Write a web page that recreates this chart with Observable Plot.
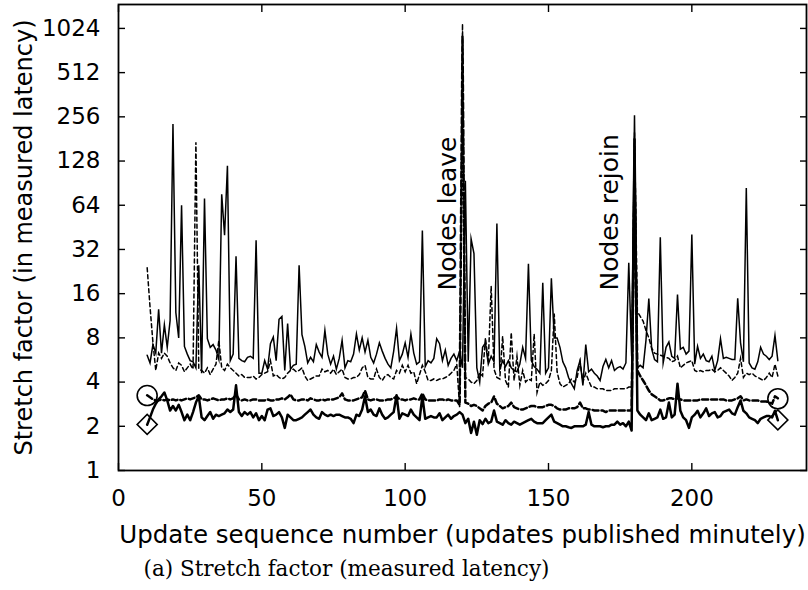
<!DOCTYPE html>
<html>
<head>
<meta charset="utf-8">
<script src="https://cdn.jsdelivr.net/npm/d3@7"></script>
<script src="https://cdn.jsdelivr.net/npm/@observablehq/plot@0.6"></script>
<style>
  html, body { margin: 0; padding: 0; background: #fff; }
  #chart { width: 808px; height: 590px; }
</style>
</head>
<body>
<div id="chart"></div>
<script>
// Update sequence numbers: first published update and the values that follow it (one per minute)
const firstSeq = 10;

// Thin solid line
const thinSolid = [
  6.1, 5.4, 7.2, 6.3, 12.5, 6.3, 9.8, 6.9, 10.5, 229,
  11.9, 8.0, 64, 7.0, 6.2, 5.6, 5.5, 5.0, 25, 4.6,
  71, 7.9, 6.9, 7.2, 6.6, 5.7, 76, 40, 119, 5.6,
  6.2, 28.8, 5.8, 5.6, 5.5, 5.9, 6.0, 5.8, 37, 4.6,
  4.6, 5.6, 4.9, 7.3, 8.1, 5.6, 10.7, 11.2, 4.8, 10.0,
  4.9, 5.2, 5.3, 25, 8.4, 7.0, 5.4, 5.9, 5.5, 7.2,
  6.4, 5.9, 9.0, 6.2, 5.3, 6.0, 4.9, 5.8, 7.7, 5.0,
  5.6, 5.5, 6.2, 8.5, 6.6, 8.0, 6.4, 7.7, 5.9, 5.4,
  6.2, 7.4, 6.5, 5.8, 5.3, 5.0, 6.5, 9.3, 5.6, 6.2,
  7.4, 5.9, 8.5, 6.3, 5.3, 5.5, 43, 5.1, 5.6, 5.4,
  5.8, 7.9, 7.3, 5.6, 6.6, 5.2, 5.8, 6.2, 5.6, 6.5,
  5.0, 94, 5.5, 37.8, 30, 5.0, 4.0, 6.9, 7.4, 5.3,
  6.0, 5.5, 48, 4.9, 5.6, 5.1, 5.6, 5.0, 4.8, 4.7,
  5.3, 6.9, 5.8, 25.6, 5.6, 5.1, 4.9, 4.6, 19, 4.6,
  5.0, 20.4, 8.0, 8.0, 6.9, 5.5, 5.0, 4.3, 3.9, 3.6,
  4.8, 5.6, 3.8, 7.2, 4.7, 4.9, 4.6, 4.4, 4.1, 5.1,
  5.7, 5.0, 5.6, 4.8, 5.0, 5.1, 4.9, 5.4, 26, 6.0,
  262, 5.0, 5.2, 5.0, 7.7, 14.8, 6.7, 5.7, 5.5, 38.8,
  5.4, 6.9, 7.5, 6.0, 5.8, 15.8, 6.7, 6.9, 6.2, 6.5,
  40.5, 5.3, 7.0, 5.8, 6.2, 5.6, 5.5, 6.0, 4.8, 5.6,
  7.9, 5.8, 5.9, 5.8, 5.7, 5.7, 14.9, 7.4, 5.5, 84,
  5.4, 5.0, 4.9, 5.5, 6.9, 6.2, 6.0, 5.7, 6.0, 8.3, 5.6
];

// Thin dashed line
const thinDashed = [
  24, 13, 7.5, 4.8, 6.3, 5.8, 6.3, 6.0, 5.4, 5.0,
  4.8, 5.4, 5.2, 4.7, 5.0, 5.3, 4.9, 172, 4.9, 4.8,
  4.6, 5.0, 4.5, 4.9, 5.3, 7.7, 5.0, 4.8, 5.3, 5.0,
  4.8, 4.6, 4.4, 4.5, 4.3, 4.3, 4.3, 4.4, 4.2, 4.3,
  4.5, 4.6, 4.7, 5.6, 4.4, 4.5, 4.3, 4.2, 4.3, 4.6,
  4.8, 4.9, 4.7, 4.8, 5.0, 4.4, 4.1, 4.2, 4.3, 4.4,
  4.4, 4.9, 4.7, 4.8, 4.6, 4.9, 4.5, 4.7, 4.9, 4.3,
  4.2, 4.2, 4.3, 4.3, 4.5, 5.0, 5.2, 4.3, 4.2, 4.2,
  4.9, 4.3, 4.1, 4.4, 4.5, 4.3, 4.2, 4.8, 4.6, 5.2,
  4.7, 5.2, 4.6, 4.7, 3.9, 4.5, 5.2, 4.7, 4.1, 4.1,
  4.2, 4.1, 4.2, 4.2, 4.3, 4.4, 4.6, 4.8, 5.3, 2.7,
  1100, 4.3, 4.2, 4.0, 3.9, 4.1, 4.6, 4.4, 8.0, 5.5,
  18, 4.9, 4.3, 4.2, 8.2, 4.1, 3.7, 8.7, 4.1, 6.0,
  3.8, 4.8, 4.0, 4.2, 4.1, 8.5, 3.4, 4.0, 3.8, 3.9,
  4.1, 4.8, 11.7, 4.7, 3.9, 3.7, 3.8, 3.9, 4.2, 4.0,
  4.3, 5.5, 4.0, 4.6, 4.1, 3.7, 3.7, 3.6, 3.6, 3.6,
  3.5, 3.5, 3.5, 3.6, 3.6, 3.6, 3.6, 3.6, 3.7, 3.7,
  200, 12.1, 11.2, 10.4, 9.0, 8.0, 6.8, 6.3, 6.2, 6.1,
  6.0, 5.9, 5.8, 5.5, 5.6, 6.0, 5.0, 5.2, 5.4, 5.5,
  5.6, 4.8, 4.7, 4.8, 4.7, 4.8, 4.8, 4.9, 4.7, 4.8,
  5.0, 4.8, 4.6, 4.4, 4.1, 4.3, 4.6, 5.8, 4.3, 4.6,
  4.5, 4.6, 4.4, 4.3, 4.2, 4.1, 4.3, 4.6, 4.3, 5.3, 4.4
];

// Thick dashed line (circle marker)
const thickDashed = [
  3.25, 3.15, 3.05, 3.0, 3.0, 3.05, 3.0, 3.05, 3.0, 3.05,
  3.0, 3.05, 3.0, 3.05, 3.1, 3.05, 3.1, 3.15, 3.25, 3.05,
  3.05, 3.0, 3.05, 3.1, 3.05, 3.0, 3.05, 3.05, 3.1, 3.05,
  3.1, 3.3, 3.05, 3.0, 3.05, 3.0, 3.0, 3.05, 3.05, 3.0,
  3.0, 3.0, 3.05, 3.0, 3.0, 3.05, 3.05, 3.1, 3.05, 3.15,
  3.3, 3.05, 3.0, 3.0, 3.05, 3.05, 3.0, 3.1, 3.05, 3.0,
  3.0, 3.05, 3.0, 3.05, 3.05, 3.05, 3.1, 3.15, 3.35, 3.05,
  3.0, 3.0, 3.0, 3.05, 3.1, 3.15, 3.5, 3.05, 3.0, 3.05,
  3.05, 3.0, 3.0, 3.0, 3.05, 3.05, 3.1, 3.2, 3.05, 3.05,
  3.0, 3.05, 3.05, 3.1, 3.05, 3.05, 3.35, 3.05, 3.0, 3.0,
  3.0, 3.0, 3.05, 3.05, 3.0, 3.05, 3.0, 3.0, 3.0, 2.8,
  900, 2.9, 2.85, 2.75, 2.8, 2.75, 2.65, 2.56, 2.75, 2.85,
  2.9, 3.2, 2.85, 2.75, 2.65, 2.7, 2.75, 2.9, 2.7, 2.65,
  2.6, 2.6, 2.65, 2.7, 2.75, 2.75, 2.7, 2.7, 2.7, 2.75,
  2.8, 2.8, 2.75, 2.65, 2.6, 2.6, 2.6, 2.65, 2.65, 2.65,
  2.7, 2.9, 2.65, 2.65, 2.6, 2.6, 2.56, 2.56, 2.56, 2.56,
  2.5, 2.56, 2.56, 2.56, 2.56, 2.56, 2.56, 2.56, 2.56, 2.56,
  100, 4.8, 4.4, 4.1, 3.8, 3.5, 3.3, 3.2, 3.1, 3.0,
  3.0, 3.05, 3.1, 3.1, 3.05, 3.1, 3.05, 3.0, 3.0, 3.0,
  3.0, 3.0, 3.0, 3.05, 3.05, 3.05, 3.05, 3.05, 3.05, 3.05,
  3.05, 3.05, 3.0, 3.0, 3.0, 3.05, 3.1, 3.2, 3.0, 3.05,
  3.0, 3.0, 3.0, 3.0, 2.95, 2.95, 2.95, 2.9, 2.85, 3.2, 3.1
];

// Thick solid line (diamond marker)
const thickSolid = [
  2.05, 2.3, 2.6, 2.85, 3.05, 3.2, 3.4, 3.0, 2.56, 2.75,
  2.56, 2.8, 2.5, 2.2, 2.4, 2.2, 2.5, 2.9, 3.2, 2.3,
  2.2, 2.35, 2.5, 2.25, 2.4, 2.35, 2.4, 2.45, 2.6, 2.5,
  2.6, 3.8, 2.5, 2.35, 2.5, 2.4, 2.5, 2.3, 2.45, 2.2,
  2.35, 2.2, 2.6, 2.65, 2.35, 2.4, 2.5, 2.3, 1.95, 2.4,
  2.3, 2.2, 2.2, 2.25, 2.3, 2.4, 2.5, 2.6, 2.4, 2.3,
  2.25, 2.5, 2.4, 2.35, 2.4, 2.35, 2.4, 2.4, 2.35, 2.3,
  2.3, 2.25, 2.1, 2.4, 2.35, 2.6, 3.2, 2.5, 2.6, 2.4,
  2.35, 2.65, 2.4, 2.25, 2.3, 2.4, 2.5, 3.25, 2.25, 2.45,
  2.4, 2.35, 2.6, 2.4, 2.3, 2.2, 3.2, 2.25, 2.3, 2.35,
  2.3, 2.3, 2.45, 2.2, 2.3, 2.4, 2.25, 2.35, 2.4, 2.5,
  2.4, 2.1, 2.25, 1.8, 2.15, 1.75, 2.2, 2.07, 2.25, 2.1,
  2.15, 2.56, 2.15, 2.1, 2.05, 2.2, 2.1, 2.05, 2.15, 2.1,
  2.05, 2.1, 2.15, 2.2, 2.25, 2.15, 2.1, 2.1, 2.1, 2.2,
  2.3, 2.4, 2.15, 2.1, 2.05, 2.0, 2.0, 1.97, 1.95, 2.0,
  2.0, 2.0, 2.0, 2.05, 2.5, 2.05, 2.0, 2.0, 2.0, 1.97,
  2.0, 2.0, 2.05, 2.05, 2.15, 2.05, 2.1, 2.0, 2.15, 1.87,
  180, 2.56, 2.4, 2.3, 2.2, 2.45, 2.2, 2.25, 2.3, 2.6,
  2.25, 2.3, 2.9, 2.3, 2.4, 3.9, 2.55, 2.3, 2.2, 1.95,
  2.3, 2.4, 2.55, 2.3, 2.45, 2.65, 2.35, 2.45, 2.5, 2.3,
  2.35, 2.5, 2.55, 2.6, 2.45, 2.4, 2.7, 3.0, 2.55, 2.45,
  2.3, 2.25, 2.2, 2.1, 2.25, 2.3, 2.35, 2.35, 2.3, 2.55, 2.2
];

// Point markers at the ends of the thick series
const circleX = [10, 230];
const circleY = [3.24, 3.08];
const diamondX = [10, 230];
const diamondY = [2.06, 2.21];

// Annotations
const annText = ["Nodes leave", "Nodes rejoin"];
const annX = [117.9, 174.4];
const annY = [16.8, 16.8];

// Axis ticks and texts
const xTicks = [0, 50, 100, 150, 200];
const yTicks = [1, 2, 4, 8, 16, 32, 64, 128, 256, 512, 1024];
const xLabel = "Update sequence number (updates published minutely)";
const yLabel = "Stretch factor (in measured latency)";
const caption = "(a) Stretch factor (measured latency)";

const seqX = (d, i) => firstSeq + i;

const chart = Plot.plot({
  width: 808,
  height: 590,
  marginLeft: 118,
  marginRight: 2,
  marginTop: 4,
  marginBottom: 120,
  style: {fontFamily: "DejaVu Sans", fontSize: "23px", color: "#000", background: "#fff"},
  x: {domain: [0, 240]},
  y: {type: "log", base: 2, domain: [1, 1490]},
  marks: [
    Plot.line(thinSolid, {x: seqX, y: d => d, stroke: "#000", strokeWidth: 1.5, strokeLinejoin: "miter", strokeMiterlimit: 10}),
    Plot.line(thinDashed, {x: seqX, y: d => d, stroke: "#000", strokeWidth: 1.5, strokeDasharray: "4,3", strokeLinejoin: "miter", strokeMiterlimit: 10}),
    Plot.line(thickDashed, {x: seqX, y: d => d, stroke: "#000", strokeWidth: 2.5, strokeDasharray: "6,3"}),
    Plot.line(thickSolid, {x: seqX, y: d => d, stroke: "#000", strokeWidth: 2.5}),
    Plot.dot(circleX, {x: d => d, y: (d, i) => circleY[i], r: 10, symbol: "circle", stroke: "#000", strokeWidth: 1.6, fill: "none"}),
    Plot.dot(diamondX, {x: d => d, y: (d, i) => diamondY[i], r: 8, symbol: "square", rotate: 45, stroke: "#000", strokeWidth: 1.6, fill: "none"}),
    Plot.text(annText, {x: (d, i) => annX[i], y: (d, i) => annY[i], text: d => d, rotate: -90, textAnchor: "start", lineAnchor: "bottom", fontSize: 25, fill: "#000"}),
    Plot.axisY(yTicks, {anchor: "left", tickSize: -7, tickPadding: 25, tickFormat: d => String(d), fontSize: 23, label: null, strokeWidth: 1.4}),
    Plot.axisY(yTicks, {anchor: "right", tickSize: -7, tickFormat: () => "", label: null, strokeWidth: 1.4}),
    Plot.axisX(xTicks, {anchor: "bottom", tickSize: -7, tickPadding: 26, tickFormat: d => String(d), fontSize: 23, label: null, strokeWidth: 1.4}),
    Plot.axisX(xTicks, {anchor: "top", tickSize: -7, tickFormat: () => "", label: null, strokeWidth: 1.4}),
    Plot.frame({stroke: "#000", strokeWidth: 1.8}),
    Plot.text([yLabel], {text: d => d, frameAnchor: "left", rotate: -90, dx: -87, lineAnchor: "bottom", textAnchor: "middle", fontSize: 24, fill: "#000"}),
    Plot.text([xLabel], {text: d => d, frameAnchor: "bottom", dy: 72, lineAnchor: "bottom", textAnchor: "middle", fontSize: 24.5, fill: "#000"}),
    Plot.text([caption], {text: d => d, frameAnchor: "bottom-left", dx: 25, dy: 105, lineAnchor: "bottom", textAnchor: "start", fontSize: 21.5, fontFamily: "DejaVu Serif", fill: "#000"})
  ]
});
document.getElementById("chart").appendChild(chart);
</script>
</body>
</html>
